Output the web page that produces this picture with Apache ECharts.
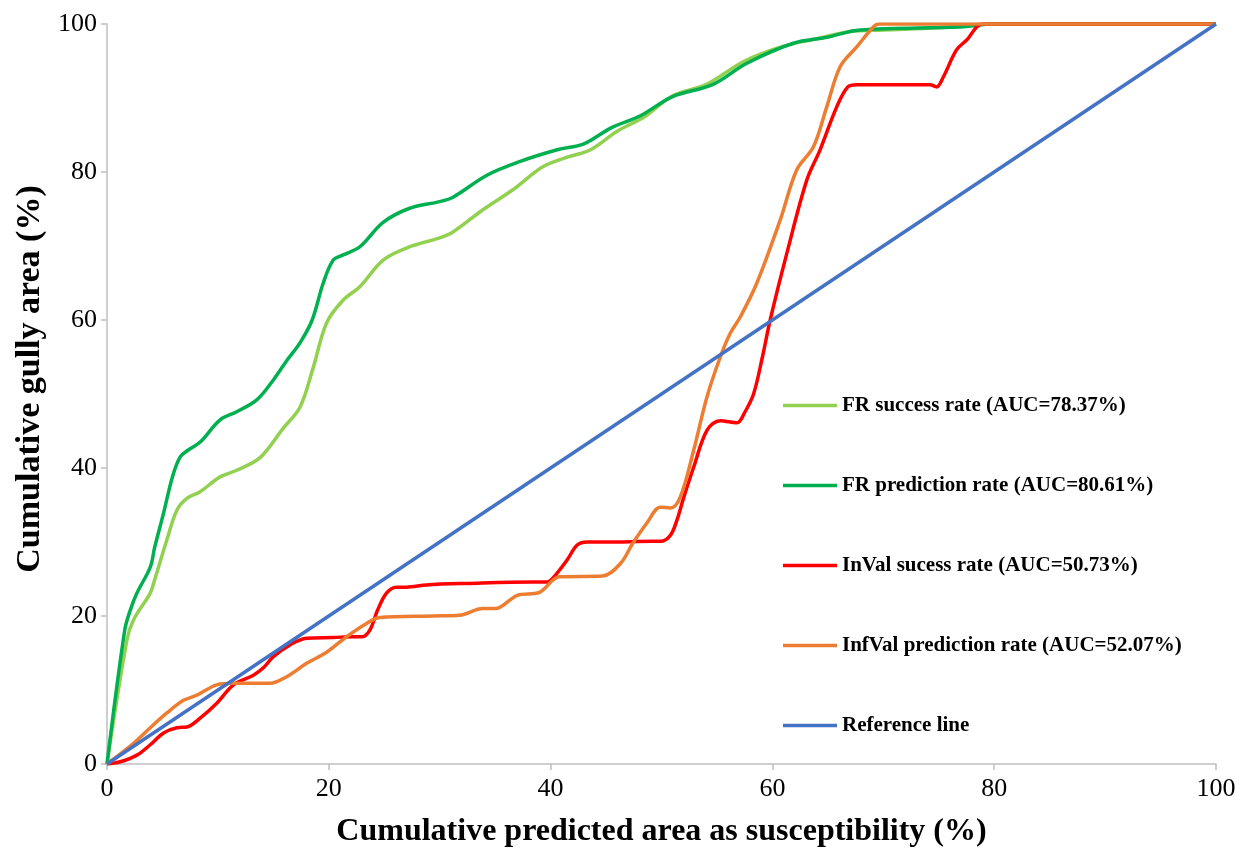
<!DOCTYPE html>
<html>
<head>
<meta charset="utf-8">
<script src="https://cdn.jsdelivr.net/npm/echarts@6/dist/echarts.min.js"></script>
<style>
  html, body { margin: 0; padding: 0; background: #fff; }
  #chart { width: 1248px; height: 850px; }
</style>
</head>
<body>
<div id="chart"></div>
<script>
// Success / prediction rate curves: [cumulative predicted area %, cumulative gully area %]
const frSuccess = [
  [0,0],[1.8,16.8],[2.4,19.5],[3.9,23.1],[4.3,24.9],[5.4,30.3],[6.3,34.3],[7.2,35.9],
  [8.4,36.8],[10.2,38.8],[11.7,39.7],[13.8,41.4],[15.9,45.4],[17.4,48.2],[18.6,53.6],
  [19.8,59.6],[21.3,62.7],[22.8,64.5],[24.9,68.1],[27.3,69.9],[30,71.1],[31.2,71.9],
  [33.9,74.9],[36.6,77.6],[39.3,80.7],[41.5,82],[43.6,83],[46,85.5],[48.5,87.5],
  [51,90.3],[54,91.8],[57.5,95],[61,97],[64,98],[67,99],[70,99.2],[75,99.5],[80,100],[100,100]
];
const frPrediction = [
  [0,0],[1.6,18.1],[2.1,20.8],[2.7,23.1],[3.9,26.6],[4.3,29.3],[5.1,33.9],[5.9,38.8],
  [6.6,41.5],[7.3,42.4],[8.4,43.5],[10.2,46.5],[11.7,47.6],[13.5,49.2],[15,51.9],
  [16.2,54.5],[17.4,56.9],[18.5,60],[19.5,65],[20.4,68.1],[21.3,68.8],[22.8,69.9],
  [24.9,73.2],[27.3,75.1],[30,76],[31.2,76.6],[34.3,79.6],[37.2,81.4],[40.6,83],
  [43,83.8],[45.5,86],[48.1,87.6],[51,90.2],[54.6,91.8],[57.7,94.7],[61.9,97.4],
  [64.9,98.2],[67.9,99.2],[76.9,99.6],[80,100],[100,100]
];
const inValSuccess = [
  [0,0],[1.2,0.3],[2.7,1.2],[3.9,2.6],[5.1,4.2],[6.3,4.9],[7.2,5.0],[8.4,6.2],[9.9,8.2],
  [11.4,10.7],[13.2,12.0],[14.1,13.0],[15,14.5],[16.5,16.1],[18,17.0],[20.4,17.1],
  [22.2,17.2],[23,17.2],[23.7,18.1],[24.4,20.8],[25.2,23.1],[26.1,23.9],[27,23.9],
  [28.8,24.2],[32.4,24.4],[38.4,24.6],[39.7,24.6],[40.2,25.1],[41.5,27.6],[42.4,29.6],
  [43.3,30.0],[45.1,30.0],[49.2,30.1],[49.9,30.1],[50.8,30.9],[51.4,33],[52,36],
  [52.9,40.1],[54.1,45.1],[55.3,46.4],[56.8,46.1],[57.5,47.5],[58.3,50],[59.1,55],
  [59.8,60],[61.3,69],[63.1,78.9],[64.3,83],[65.8,88.8],[66.8,91.5],[67.6,91.8],
  [74.2,91.8],[74.8,91.5],[75.4,92.8],[76.6,96.5],[77.5,97.8],[79,100],[100,100]
];
const infValPrediction = [
  [0,0],[2.4,2.8],[3.9,4.9],[5.4,6.9],[6.9,8.6],[8.1,9.3],[9.9,10.7],[11.4,10.9],
  [14.7,10.9],[16.2,11.8],[18,13.6],[19.8,15.1],[21.6,17.2],[23.4,19.0],[24.6,19.8],
  [29.4,20.0],[31.8,20.1],[33.9,21.0],[35,21.0],[37,22.8],[39,23.2],[40.8,25.3],
  [44.7,25.4],[46.3,27.1],[47.4,29.8],[48.7,32.6],[49.9,34.7],[50.8,34.6],[51.7,36.1],
  [52.9,42.4],[54.1,49.6],[55.3,55.0],[56.2,58.2],[57.1,60.4],[58.6,65],[60.7,73.5],
  [62.2,80.3],[63.7,83.4],[64.9,88.8],[66.1,94.2],[67.6,96.9],[69.1,99.6],[69.6,100],[100,100]
];
const referenceLine = [[0,0],[100,100]];

const seriesNames = [
  'FR success rate (AUC=78.37%)',
  'FR prediction rate (AUC=80.61%)',
  'InVal sucess rate (AUC=50.73%)',
  'InfVal prediction rate (AUC=52.07%)',
  'Reference line'
];
const seriesColors = ['#92D050', '#00B050', '#FF0000', '#ED7D31', '#4472C4'];
const seriesData = [frSuccess, frPrediction, inValSuccess, infValPrediction, referenceLine];

const xTitle = 'Cumulative predicted area as susceptibility (%)';
const yTitle = 'Cumulative gully area (%)';

const serif = '"Liberation Serif", "Times New Roman", serif';
const axisGray = '#BFBFBF';

const chart = echarts.init(document.getElementById('chart'), null, { renderer: 'canvas' });

chart.setOption({
  animation: false,
  backgroundColor: '#ffffff',
  grid: { left: 107, right: 32, top: 24, bottom: 86, containLabel: false, outerBoundsMode: 'none' },
  legend: {
    orient: 'vertical',
    left: 778,
    top: 390,
    icon: 'rect',
    itemWidth: 54,
    itemHeight: 3.5,
    itemGap: 59,
    data: seriesNames,
    textStyle: {
      fontFamily: serif,
      fontWeight: 'bold',
      fontSize: 21,
      lineHeight: 20,
      color: '#000'
    }
  },
  xAxis: {
    type: 'value',
    min: 0, max: 100, interval: 20,
    name: xTitle,
    nameLocation: 'middle',
    nameGap: 52,
    nameTextStyle: { fontFamily: serif, fontWeight: 'bold', fontSize: 32, color: '#000' },
    axisLine: { show: true, lineStyle: { color: axisGray, width: 1.5 } },
    axisTick: { show: true, length: 6, lineStyle: { color: axisGray, width: 1.5 } },
    axisLabel: { fontFamily: serif, fontSize: 26, color: '#000', margin: 12 },
    splitLine: { show: false }
  },
  yAxis: {
    type: 'value',
    min: 0, max: 100, interval: 20,
    name: yTitle,
    nameLocation: 'middle',
    nameGap: 60,
    nameTextStyle: { fontFamily: serif, fontWeight: 'bold', fontSize: 34, color: '#000', padding: [0, 0, 0, 30] },
    axisLine: { show: true, lineStyle: { color: axisGray, width: 1.5 } },
    axisTick: { show: true, length: 6, lineStyle: { color: axisGray, width: 1.5 } },
    axisLabel: { fontFamily: serif, fontSize: 26, color: '#000', margin: 10 },
    splitLine: { show: false }
  },
  series: seriesNames.map((name, i) => ({
    name: name,
    type: 'line',
    data: seriesData[i],
    smooth: i === 4 ? false : 0.35,
    symbol: 'none',
    showSymbol: false,
    color: seriesColors[i],
    lineStyle: { color: seriesColors[i], width: 3.5 },
    z: 2 + i
  }))
});
</script>
</body>
</html>
